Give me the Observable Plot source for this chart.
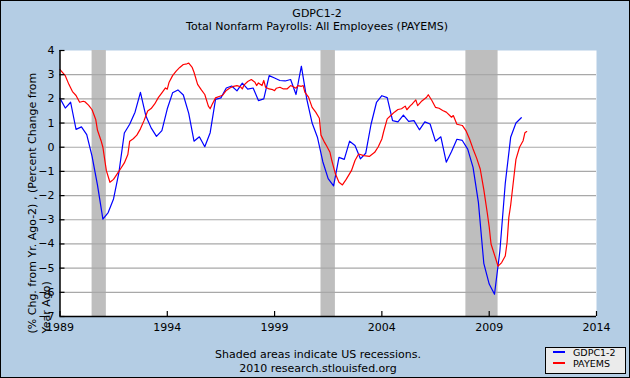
<!DOCTYPE html>
<html>
<head>
<meta charset="utf-8">
<script src="https://cdn.jsdelivr.net/npm/d3@7"></script>
<script src="https://cdn.jsdelivr.net/npm/@observablehq/plot@0.6"></script>
<style>
html, body { margin: 0; padding: 0; background: #b4cde4; }
#chart { position: relative; width: 630px; height: 378px; background: #b4cde4; font-family: "DejaVu Sans", sans-serif; color: #000; overflow: hidden; }
#border { position: absolute; left: 0; top: 0; width: 630px; height: 378px; box-sizing: border-box; border: 1px solid #000; pointer-events: none; }
#title { height: 42px; box-sizing: border-box; padding-top: 7px; padding-left: 4px; text-align: center; font-size: 11px; line-height: 13px; }
#plot svg { display: block; }
#caption { height: 36px; box-sizing: border-box; padding-top: 6px; padding-left: 6px; text-align: center; font-size: 11px; line-height: 13.5px; }
#legend { position: absolute; left: 545px; top: 347px; width: 81px; height: 27px; box-sizing: border-box; border: 1.5px solid #000; background: #ebebeb; font-size: 9.5px; }
#legend .sw { position: absolute; left: 7px; width: 12px; height: 2.2px; }
#legend .lt { position: absolute; left: 27px; line-height: 11px; white-space: nowrap; }
</style>
</head>
<body>
<div id="chart">
  <div id="title"></div>
  <div id="plot"></div>
  <div id="caption"></div>
  <div id="legend"></div>
  <div id="border"></div>
</div>
<script>
// ---- Texts ----
const titleLines = ["GDPC1-2", "Total Nonfarm Payrolls: All Employees (PAYEMS)"];
const captionLines = ["Shaded areas indicate US recessions.", "2010 research.stlouisfed.org"];
const yAxisLabel = "(% Chg. from Yr. Ago-2) , (Percent Change from\nYear Ago)";
const seriesNames = ["GDPC1-2", "PAYEMS"];
const seriesColors = ["#0000ff", "#ff0000"];

// ---- Axis ticks ----
const xTickYears = [1989, 1994, 1999, 2004, 2009, 2014];
const yTickValues = [-7, -6, -5, -4, -3, -2, -1, 0, 1, 2, 3, 4];
const gridValues = [-6, -5, -4, -3, -2, -1, 0, 1, 2, 3];

// ---- Recessions ----
const recessionStart = ["1990-07-01", "2001-03-01", "2007-12-01"];
const recessionEnd = ["1991-03-01", "2001-11-01", "2009-06-01"];

// ---- GDPC1-2: quarterly, starting 1989 Q1 ----
const gdpStartYear = 1989;
const gdpValues = [
  2.02, 1.62, 1.86, 0.74,   // 1989
  0.84, 0.52, -0.38, -1.57, // 1990
  -2.97, -2.7, -2.14, -1.04, // 1991
  0.59, 0.95, 1.45, 2.27,   // 1992
  1.3, 0.8, 0.45, 0.69,     // 1993
  1.59, 2.25, 2.37, 2.16,   // 1994
  1.4, 0.25, 0.43, 0.02,    // 1995
  0.6, 1.98, 2.04, 2.45,    // 1996
  2.53, 2.33, 2.65, 2.4,    // 1997
  2.45, 1.93, 2.0, 2.96,    // 1998
  2.86, 2.76, 2.74, 2.8,    // 1999
  2.18, 3.35, 2.0, 1.0,     // 2000
  0.4, -0.6, -1.3, -1.6,    // 2001
  -0.42, -0.5, 0.25, 0.07,  // 2002
  -0.48, -0.25, 0.95, 1.85, // 2003
  2.13, 2.05, 1.1, 1.05,    // 2004
  1.33, 1.07, 1.1, 0.72,    // 2005
  1.05, 0.96, 0.25, 0.43,   // 2006
  -0.62, -0.18, 0.33, 0.28, // 2007
  -0.08, -0.83, -2.28, -4.8, // 2008
  -5.66, -6.08, -4.3, -1.5, // 2009
  0.41, 1.0, 1.22           // 2010
];

// ---- PAYEMS: month offset from Jan 1989 and value ----
const payemsMonth = [
  0, 3, 5, 7, 9, 11, 13, 14, 16, 18, 20, 21, 23, 24, 26, 28, 30, 32, 34, 36,
  38, 39, 41, 43, 45, 47, 49, 51, 53, 55, 57, 59, 60, 61, 63, 65, 67, 69, 71, 72,
  74, 75, 77, 79, 81, 83, 84, 85, 87, 89, 91, 93, 95, 97, 99, 101, 102, 103, 105, 107,
  109, 110, 111, 113, 114, 115, 117, 119, 120, 121, 123, 125, 127, 129, 131, 132, 133, 135, 136, 137,
  139, 141, 143, 145, 146, 148, 149, 151, 152, 154, 156, 158, 160, 163, 165, 167, 170, 173, 176, 178,
  180, 181, 183, 185, 187, 189, 191, 193, 194, 196, 197, 199, 200, 202, 205, 206, 208, 210, 212, 214,
  216, 219, 220, 222, 225, 227, 229, 231, 233, 235, 237, 239, 240, 241, 243, 245, 247, 249, 250, 251,
  252, 254, 255, 257, 259, 260, 261
];
const payemsValues = [
  3.21, 2.96, 2.6, 2.3, 2.14, 1.86, 1.9, 1.88, 1.74, 1.55, 1.15, 0.7, 0.27, 0.0, -0.97, -1.45, -1.33, -1.1, -0.88, -0.65,
  -0.3, 0.25, 0.35, 0.5, 0.76, 1.1, 1.5, 1.6, 1.79, 2.05, 2.25, 2.45, 2.4, 2.69, 2.96, 3.15, 3.3, 3.42, 3.45, 3.48,
  3.3, 3.1, 2.6, 2.38, 2.18, 1.7, 1.59, 1.76, 2.04, 2.1, 2.15, 2.35, 2.45, 2.52, 2.55, 2.5, 2.41, 2.58, 2.72, 2.8,
  2.69, 2.55, 2.66, 2.55, 2.76, 2.48, 2.41, 2.38, 2.34, 2.44, 2.48, 2.41, 2.41, 2.55, 2.48, 2.44, 2.55, 2.52, 2.55, 2.27,
  2.07, 1.65, 1.45, 1.2, 0.5, 0.2, 0.07, -0.21, -0.55, -1.1, -1.45, -1.56, -1.34, -0.97, -0.55, -0.28, -0.35, -0.38, -0.21, 0.02,
  0.34, 0.65, 1.17, 1.31, 1.45, 1.56, 1.59, 1.7, 1.55, 1.72, 1.79, 1.96, 1.72, 1.89, 2.07, 2.17, 1.93, 1.65, 1.61, 1.52,
  1.45, 1.24, 1.31, 0.95, 0.9, 0.69, 0.34, -0.07, -0.45, -0.9, -1.75, -2.75, -3.3, -4.0, -4.45, -4.92, -4.77, -4.5, -3.94, -2.9,
  -2.4, -1.15, -0.5, 0.0, 0.27, 0.6, 0.65
];

// ---- Build tables ----
const gdp = gdpValues.map((v, i) => ({date: new Date(Date.UTC(gdpStartYear, 3 * i, 1)), value: v}));
const payems = payemsMonth.map((m, i) => ({date: new Date(Date.UTC(1989, m, 1)), value: payemsValues[i]}));
const recessions = recessionStart.map((s, i) => ({start: new Date(s + "T00:00:00Z"), end: new Date(recessionEnd[i] + "T00:00:00Z")}));
const xTicks = xTickYears.map(y => new Date(Date.UTC(y, 0, 1)));
const xDomain = [xTicks[0], xTicks[xTicks.length - 1]];

// ---- Header / caption ----
document.getElementById("title").innerHTML = titleLines.map(t => `<div>${t}</div>`).join("");
document.getElementById("caption").innerHTML = captionLines.map(t => `<div>${t}</div>`).join("");
document.getElementById("legend").innerHTML = seriesNames.map((n, i) =>
  `<div class="sw" style="top:${3 + 11 * i}px;background:${seriesColors[i]}"></div>` +
  `<div class="lt" style="top:${-1 + 11 * i}px">${n}</div>`).join("");

// ---- Plot ----
const W = 630, H = 300, mL = 59.5, mR = 34, mT = 8, mB = 26;
const plotW = W - mL - mR, plotH = H - mT - mB;

const chart = Plot.plot({
  width: W, height: H,
  marginLeft: mL, marginRight: mR, marginTop: mT, marginBottom: mB,
  style: {background: "transparent", fontFamily: '"DejaVu Sans", sans-serif', fontSize: "11px", color: "#000", overflow: "visible"},
  x: {type: "utc", domain: xDomain},
  y: {domain: [yTickValues[0], yTickValues[yTickValues.length - 1]]},
  marks: [
    Plot.frame({fill: "white", stroke: null}),
    Plot.rect(recessions, {x1: "start", x2: "end", fill: "#bebebe"}),
    Plot.ruleY(gridValues, {stroke: "#a8a8a8", strokeWidth: 1.2}),
    Plot.line(gdp, {x: "date", y: "value", stroke: seriesColors[0], strokeWidth: 1.2}),
    Plot.line(payems, {x: "date", y: "value", stroke: seriesColors[1], strokeWidth: 1.2}),
    Plot.ruleX([xDomain[0]], {stroke: "#000", strokeWidth: 1.5}),
    Plot.ruleY([yTickValues[0]], {stroke: "#000", strokeWidth: 1.5}),
    Plot.tickY(yTickValues, {y: d => d, stroke: "#000", strokeWidth: 1.2, insetRight: plotW - 5}),
    Plot.tickX(xTicks, {x: d => d, stroke: "#000", strokeWidth: 1.2, insetTop: plotH - 5}),
    Plot.axisY(yTickValues, {tickSize: 0, tickPadding: 5.5, label: null, fill: "#000"}),
    Plot.axisX(xTicks, {tickSize: 0, tickPadding: 7, tickFormat: d3.utcFormat("%Y"), label: null, fill: "#000"}),
    Plot.text([yAxisLabel], {text: d => d, frameAnchor: "bottom-left", rotate: -90, textAnchor: "start", lineAnchor: "top", lineHeight: 1.23, dx: -33.5, dy: 17, fontSize: 11, fill: "#000"})
  ]
});
document.getElementById("plot").appendChild(chart);
</script>
</body>
</html>
